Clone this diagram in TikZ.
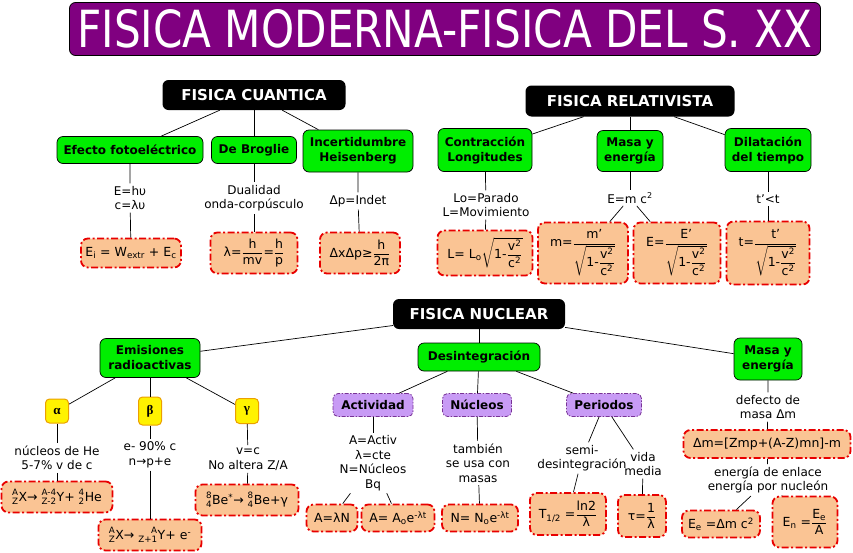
\documentclass[tikz,border=0pt]{standalone}
\usepackage{amsmath, amssymb}
\usepackage{mathtools}
\usepackage{fontspec}
\setmainfont{DejaVu Sans}
\newfontfamily\greekFont{Liberation Serif}
\usepackage{tikz}
\usetikzlibrary{positioning}
\definecolor{titleCol}{RGB}{128,0,128}
\definecolor{conceptCol}{RGB}{0,238,0}
\definecolor{formulaCol}{RGB}{250,196,148}
\definecolor{formulaLine}{RGB}{232,0,0}
\definecolor{subCol}{RGB}{200,155,245}
\definecolor{subLine}{RGB}{120,50,150}
\definecolor{greekLine}{RGB}{235,160,0}
\tikzset{myTitle/.style={fill=titleCol, draw=black, line width=0.8pt, rounded corners=6pt, text=white, inner sep=0pt, minimum width=751pt, minimum height=53pt}}
\tikzset{myTopic/.style={fill=black, rounded corners=6pt, text=white, font=\fontsize{15}{17}\selectfont\bfseries, minimum height=30pt, inner xsep=0pt}}
\tikzset{myConcept/.style={fill=conceptCol, draw=black, line width=0.7pt, rounded corners=6pt, align=center, font=\fontsize{12}{15}\selectfont\bfseries, minimum height=27pt, inner xsep=2pt}}
\tikzset{mySub/.style={fill=subCol, draw=subLine, line width=0.8pt, dash pattern=on 4pt off 1.5pt on 1.5pt off 1.5pt, rounded corners=5pt, font=\fontsize{12}{15}\selectfont\bfseries, minimum height=23pt, inner xsep=1pt}}
\tikzset{myGreek/.style={fill=yellow, draw=greekLine, line width=1pt, rounded corners=4pt, font=\fontsize{13}{15}\selectfont\greekFont\bfseries, minimum width=23pt, inner sep=0pt}}
\tikzset{myFormula/.style={fill=formulaCol, draw=formulaLine, line width=1.8pt, dash pattern=on 7pt off 2.5pt on 2pt off 2.5pt, rounded corners=7pt, font=\fontsize{12.5}{15}\selectfont, inner sep=1pt}}
\tikzset{myPhrase/.style={align=center, font=\fontsize{12}{14.5}\selectfont, inner sep=2.5pt}}
\tikzset{myLink/.style={line width=0.7pt, color=black}}
\newcommand{\tx}[1]{\text{#1}}
\newcommand{\relRoot}{\sqrt{\tx{1-}\dfrac{\tx{v}^{\tx{2}}}{\tx{c}^{\tx{2}}}}}

\begin{document}
\begin{tikzpicture}[x=1pt,y=-1pt]
	\useasboundingbox (0,0) rectangle (853,552);
	\node[myTitle] (title) at (445,29) {\resizebox{735pt}{38pt}{FISICA MODERNA-FISICA DEL S. XX}};

	% fisica cuantica
	\node[myTopic, minimum width=183pt] (cuant) at (254,95) {FISICA CUANTICA};
	\node[myConcept, minimum width=146pt] (foto) at (130,150) {Efecto fotoeléctrico};
	\node[myConcept, minimum width=85pt] (brog) at (254,150) {De Broglie};
	\node[myConcept, minimum width=110pt, minimum height=42pt] (heis) at (358,151) {Incertidumbre\\Heisenberg};
	\node[myPhrase] (tFoto) at (130,198) {E=hυ\\c=λυ};
	\node[myPhrase] (tBrog) at (254,198) {Dualidad\\onda-corpúsculo};
	\node[myPhrase] (tHeis) at (358,201) {Δp=Indet};
	\node[myFormula, minimum width=100pt, minimum height=29pt] (fFoto) at (131,253) {E\textsubscript{i} = W\textsubscript{extr} + E\textsubscript{c}};
	\node[myFormula, minimum width=87pt, minimum height=41pt] (fBrog) at (254,253) {λ=$\dfrac{\tx{h}}{\tx{mv}}$=$\dfrac{\tx{h}}{\tx{p}}$};
	\node[myFormula, minimum width=80pt, minimum height=41pt] (fHeis) at (360,253) {ΔxΔp≥$\dfrac{\tx{h}}{\tx{2π}}$};
	\draw[myLink] (cuant) -- (foto);
	\draw[myLink] (cuant) -- (brog);
	\draw[myLink] (cuant) -- (heis);
	\draw[myLink] (foto) -- (tFoto) -- (fFoto);
	\draw[myLink] (brog) -- (tBrog) -- (fBrog);
	\draw[myLink] (heis) -- (tHeis) -- (fHeis);

	% fisica relativista
	\node[myTopic, minimum width=209pt, minimum height=31pt] (relat) at (630,101) {FISICA RELATIVISTA};
	\node[myConcept, minimum width=94pt, minimum height=43pt] (contr) at (485,150) {Contracción\\Longitudes};
	\node[myConcept, minimum width=66pt, minimum height=41pt] (masaR) at (630,151) {Masa y\\energía};
	\node[myConcept, minimum width=86pt, minimum height=43pt] (dilat) at (768,150) {Dilatación\\del tiempo};
	\node[myPhrase] (tContr) at (486,205) {Lo=Parado\\L=Movimiento};
	\node[myPhrase] (tMasaR) at (630,198) {E=m c\textsuperscript{2}};
	\node[myPhrase] (tDilat) at (768,199) {t'<t};
	\node[myFormula, minimum width=95pt, minimum height=45pt] (fContr) at (485,253) {L= L\textsubscript{o}$\relRoot$};
	\node[myFormula, minimum width=90pt, minimum height=61pt] (fMasa) at (583,253) {m=$\dfrac{\tx{m'}}{\relRoot}$};
	\node[myFormula, minimum width=87pt, minimum height=61pt] (fEner) at (677,253) {E=$\dfrac{\tx{E'}}{\relRoot}$};
	\node[myFormula, minimum width=83pt, minimum height=63pt] (fDilat) at (768,253) {t=$\dfrac{\tx{t'}}{\relRoot}$};
	\draw[myLink] (relat) -- (contr);
	\draw[myLink] (relat) -- (masaR);
	\draw[myLink] (relat) -- (dilat);
	\draw[myLink] (contr) -- (tContr) -- (fContr);
	\draw[myLink] (masaR) -- (tMasaR);
	\draw[myLink] (tMasaR) -- (fMasa);
	\draw[myLink] (tMasaR) -- (fEner);
	\draw[myLink] (dilat) -- (tDilat) -- (fDilat);

	% fisica nuclear
	\node[myTopic, minimum width=172pt] (nucl) at (479,314) {FISICA NUCLEAR};
	\node[myConcept, minimum width=100pt, minimum height=39pt] (emis) at (150,358) {Emisiones\\radioactivas};
	\node[myConcept, minimum width=122pt, minimum height=28pt] (desint) at (479,357) {Desintegración};
	\node[myConcept, minimum width=68pt, minimum height=42pt] (masaN) at (768,359) {Masa y\\energía};
	\draw[myLink] (nucl) -- (emis);
	\draw[myLink] (nucl) -- (desint);
	\draw[myLink] (nucl) -- (masaN);

	% emisiones
	\node[myGreek, minimum height=24pt] (alfa) at (57,411) {α};
	\node[myGreek, minimum height=28pt] (beta) at (150,411) {β};
	\node[myGreek, minimum height=25pt] (gama) at (247,411) {γ};
	\node[myPhrase] (tAlfa) at (57,458) {núcleos de He\\5-7\% v de c};
	\node[myPhrase] (tBeta) at (150,455) {e- 90\% c\\n→p+e};
	\node[myPhrase] (tGama) at (248,459) {v=c\\No altera Z/A};
	\node[myFormula, minimum width=111pt, minimum height=31pt] (fAlfa) at (57,497) {$\prescript{\tx{A}}{\tx{Z}}{\tx{X}}$→ $\prescript{\tx{A-4}}{\tx{Z-2}}{\tx{Y}}$+ $\prescript{\tx{4}}{\tx{2}}{\tx{He}}$};
	\node[myFormula, minimum width=103pt, minimum height=31pt] (fBeta) at (150,535) {$\prescript{\tx{A}}{\tx{Z}}{\tx{X}}$→ $\prescript{\tx{A}}{\tx{Z+1}}{\tx{Y}}$+ e\textsuperscript{-}};
	\node[myFormula, minimum width=103pt, minimum height=31pt] (fGama) at (247,500) {$\prescript{\tx{8}}{\tx{4}}{\tx{Be}}^{\tx{*}}$→ $\prescript{\tx{8}}{\tx{4}}{\tx{Be}}$+γ};
	\draw[myLink] (emis) -- (alfa);
	\draw[myLink] (emis) -- (beta);
	\draw[myLink] (emis) -- (gama);
	\draw[myLink] (alfa) -- (tAlfa) -- (fAlfa);
	\draw[myLink] (beta) -- (tBeta) -- (fBeta);
	\draw[myLink] (gama) -- (tGama) -- (fGama);

	% desintegracion
	\node[mySub, minimum width=80pt] (activ) at (373,405) {Actividad};
	\node[mySub, minimum width=69pt] (nucleos) at (477,405) {Núcleos};
	\node[mySub, minimum width=75pt] (period) at (604,405) {Periodos};
	\node[myPhrase] (tActiv) at (373,463) {A=Activ\\λ=cte\\N=Núcleos\\Bq};
	\node[myPhrase] (tNucleos) at (478,463) {también\\se usa con\\masas};
	\node[myPhrase] (tSemi) at (582,458) {semi-\\desintegración};
	\node[myPhrase] (tVida) at (643,464) {vida\\media};
	\node[myFormula, minimum width=51pt, minimum height=27pt] (fAct1) at (332,518) {A=λN};
	\node[myFormula, minimum width=73pt, minimum height=27pt] (fAct2) at (398,518) {A= A\textsubscript{o}e\textsuperscript{-λt}};
	\node[myFormula, minimum width=76pt, minimum height=27pt] (fNuc) at (480,518) {N= N\textsubscript{o}e\textsuperscript{-λt}};
	\node[myFormula, minimum width=76pt, minimum height=42pt] (fSemi) at (568,514) {T\textsubscript{1/2} =$\dfrac{\tx{ln2}}{\tx{λ}}$};
	\node[myFormula, minimum width=48pt, minimum height=42pt] (fVida) at (642,516) {τ=$\dfrac{\tx{1}}{\tx{λ}}$};
	\draw[myLink] (desint) -- (activ);
	\draw[myLink] (desint) -- (nucleos);
	\draw[myLink] (desint) -- (period);
	\draw[myLink] (activ) -- (tActiv);
	\draw[myLink] (tActiv) -- (fAct1);
	\draw[myLink] (tActiv) -- (fAct2);
	\draw[myLink] (nucleos) -- (tNucleos) -- (fNuc);
	\draw[myLink] (period) -- (tSemi) -- (fSemi);
	\draw[myLink] (period) -- (tVida) -- (fVida);

	% masa y energia
	\node[myPhrase] (tDefecto) at (768,407) {defecto de\\masa Δm};
	\node[myFormula, minimum width=167pt, minimum height=28pt] (fDefecto) at (767,444) {Δm=[Zmp+(A-Z)mn]-m};
	\node[myPhrase] (tEnlace) at (768,480) {energía de enlace\\energía por nucleón};
	\node[myFormula, minimum width=78pt, minimum height=27pt] (fEnl1) at (721,524) {E\textsubscript{e} =Δm c\textsuperscript{2}};
	\node[myFormula, minimum width=65pt, minimum height=51pt] (fEnl2) at (805,522) {E\textsubscript{n} =$\dfrac{\tx{E}_{\tx{e}}}{\tx{A}}$};
	\draw[myLink] (masaN) -- (tDefecto) -- (fDefecto) -- (tEnlace);
	\draw[myLink] (tEnlace) -- (fEnl1);
	\draw[myLink] (tEnlace) -- (fEnl2);
\end{tikzpicture}
\end{document}
